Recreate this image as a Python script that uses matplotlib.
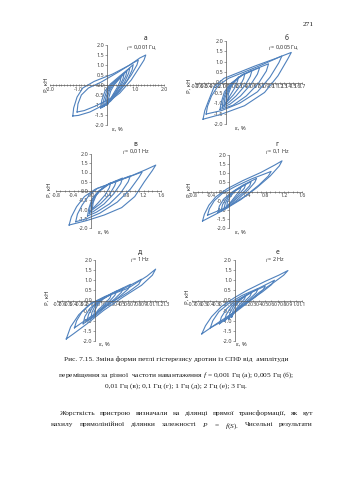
import numpy as np
import matplotlib
matplotlib.use('Agg')
import matplotlib.pyplot as plt
from matplotlib.ticker import MultipleLocator, FormatStrFormatter

plt.rcParams['font.family'] = ['Noto Sans', 'DejaVu Sans']
plt.rcParams['axes.unicode_minus'] = False
plt.rcParams['mathtext.fontset'] = 'custom'
plt.rcParams['mathtext.it'] = 'Liberation Serif:italic'
plt.rcParams['mathtext.rm'] = 'Liberation Serif'

W, H = 339, 480

# hysteresis loops, (strain %, force kN) per loop, outer loop first
loops_a = [
    [(-1.20, -1.55), (-1.17, -1.15), (-1.05, -0.60), (-0.85, -0.15), (-0.45, 0.18), (0.20, 0.55), (0.80, 1.00),
     (1.15, 1.35), (1.36, 1.50), (1.30, 1.25), (1.10, 0.80), (0.85, 0.25), (0.45, -0.40), (-0.05, -0.95),
     (-0.60, -1.35), (-1.00, -1.52), (-1.20, -1.55)],
    [(-1.05, -1.35), (-1.02, -0.95), (-0.90, -0.50), (-0.65, -0.15), (-0.20, 0.15), (0.40, 0.65), (0.85, 1.05),
     (1.10, 1.25), (1.05, 1.00), (0.85, 0.50), (0.55, -0.10), (0.15, -0.65), (-0.40, -1.05), (-0.80, -1.28),
     (-1.05, -1.35)],
    [(-0.22, -1.15), (-0.18, -0.75), (-0.07, -0.30), (0.12, 0.05), (0.45, 0.45), (0.75, 0.80), (0.92, 1.02),
     (0.88, 0.75), (0.72, 0.25), (0.45, -0.30), (0.12, -0.82), (-0.22, -1.15)],
    [(-0.15, -1.10), (-0.11, -0.72), (-0.01, -0.30), (0.16, 0.05), (0.45, 0.40), (0.80, 0.85), (0.76, 0.60),
     (0.62, 0.15), (0.38, -0.35), (0.08, -0.84), (-0.15, -1.10)],
    [(-0.09, -1.05), (-0.05, -0.70), (0.04, -0.30), (0.19, 0.05), (0.45, 0.38), (0.70, 0.70), (0.66, 0.45),
     (0.52, 0.05), (0.30, -0.40), (0.04, -0.84), (-0.09, -1.05)],
    [(-0.03, -1.00), (0.00, -0.68), (0.08, -0.30), (0.22, 0.02), (0.42, 0.30), (0.60, 0.55), (0.56, 0.30),
     (0.44, -0.05), (0.25, -0.45), (0.06, -0.82), (-0.03, -1.00)],
    [(0.03, -0.95), (0.06, -0.65), (0.13, -0.30), (0.25, 0.00), (0.50, 0.42), (0.46, 0.18), (0.36, -0.12),
     (0.20, -0.50), (0.03, -0.95)],
]

loops_b = [
    [(-0.52, -1.77), (-0.48, -1.35), (-0.40, -0.90), (-0.27, -0.20), (-0.05, 0.20), (0.30, 0.50), (0.65, 0.80),
     (1.10, 1.15), (1.46, 1.45), (1.38, 1.13), (1.16, 0.32), (0.86, -0.48), (0.41, -1.12), (-0.11, -1.53),
     (-0.52, -1.77)],
    [(-0.45, -1.52), (-0.42, -1.15), (-0.33, -0.65), (-0.18, -0.15), (0.05, 0.20), (0.40, 0.50), (0.80, 0.85),
     (1.25, 1.28), (1.18, 0.95), (0.98, 0.25), (0.70, -0.45), (0.30, -1.00), (-0.10, -1.35), (-0.45, -1.52)],
    [(-0.14, -1.30), (-0.11, -0.95), (-0.04, -0.45), (0.10, -0.05), (0.35, 0.35), (0.65, 0.65), (0.95, 0.90),
     (0.90, 0.55), (0.72, -0.05), (0.45, -0.65), (0.15, -1.10), (-0.14, -1.30)],
    [(-0.09, -1.20), (-0.07, -0.85), (0.00, -0.40), (0.12, -0.05), (0.35, 0.35), (0.75, 0.72), (0.70, 0.40),
     (0.55, -0.10), (0.32, -0.65), (0.08, -1.05), (-0.09, -1.20)],
    [(-0.05, -1.10), (-0.03, -0.75), (0.04, -0.35), (0.15, 0.00), (0.35, 0.35), (0.58, 0.60), (0.54, 0.30),
     (0.42, -0.15), (0.22, -0.65), (0.05, -0.98), (-0.05, -1.10)],
    [(-0.01, -1.00), (0.01, -0.65), (0.08, -0.25), (0.20, 0.10), (0.42, 0.45), (0.39, 0.18), (0.30, -0.20),
     (0.16, -0.60), (-0.01, -1.00)],
    [(0.03, -0.90), (0.05, -0.55), (0.12, -0.15), (0.28, 0.28), (0.25, 0.05), (0.18, -0.30), (0.08, -0.65),
     (0.03, -0.90)],
]

loops_c = [
    [(-0.50, -1.84), (-0.45, -1.40), (-0.33, -0.85), (-0.15, -0.30), (0.10, 0.10), (0.45, 0.40), (0.90, 0.80),
     (1.25, 1.15), (1.48, 1.40), (1.40, 1.10), (1.22, 0.50), (1.00, -0.30), (0.70, -0.90), (0.30, -1.30),
     (-0.10, -1.60), (-0.50, -1.84)],
    [(-0.35, -1.66), (-0.31, -1.25), (-0.20, -0.75), (-0.05, -0.25), (0.15, 0.15), (0.50, 0.45), (0.85, 0.75),
     (1.17, 1.03), (1.10, 0.75), (0.90, 0.10), (0.60, -0.60), (0.20, -1.20), (-0.10, -1.50), (-0.35, -1.66)],
    [(-0.08, -1.35), (-0.05, -0.95), (0.02, -0.45), (0.15, -0.05), (0.38, 0.35), (0.65, 0.60), (0.90, 0.82),
     (0.85, 0.50), (0.68, -0.10), (0.42, -0.70), (0.12, -1.15), (-0.08, -1.35)],
    [(-0.04, -1.22), (-0.02, -0.85), (0.05, -0.40), (0.18, 0.00), (0.40, 0.38), (0.72, 0.70), (0.68, 0.40),
     (0.52, -0.15), (0.30, -0.70), (0.06, -1.10), (-0.04, -1.22)],
    [(0.00, -1.10), (0.02, -0.75), (0.08, -0.35), (0.20, 0.00), (0.40, 0.35), (0.58, 0.55), (0.54, 0.28),
     (0.42, -0.20), (0.22, -0.68), (0.04, -1.00), (0.00, -1.10)],
    [(0.03, -0.98), (0.05, -0.62), (0.12, -0.22), (0.26, 0.15), (0.45, 0.45), (0.42, 0.18), (0.32, -0.22),
     (0.16, -0.65), (0.03, -0.98)],
]

loops_d = [
    [(-0.59, -1.62), (-0.55, -1.25), (-0.45, -0.75), (-0.30, -0.30), (-0.05, 0.15), (0.30, 0.60), (0.70, 1.05),
     (1.00, 1.45), (1.16, 1.68), (1.10, 1.40), (0.90, 0.85), (0.60, 0.20), (0.25, -0.45), (-0.15, -1.05),
     (-0.59, -1.62)],
    [(-0.48, -1.30), (-0.44, -0.95), (-0.33, -0.50), (-0.15, -0.10), (0.15, 0.30), (0.50, 0.70), (0.92, 1.10),
     (0.86, 0.85), (0.65, 0.35), (0.35, -0.25), (0.00, -0.80), (-0.48, -1.30)],
    [(-0.25, -1.15), (-0.22, -0.80), (-0.12, -0.40), (0.05, -0.05), (0.30, 0.35), (0.60, 0.72), (0.56, 0.50),
     (0.42, 0.10), (0.20, -0.40), (-0.05, -0.90), (-0.25, -1.15)],
    [(-0.18, -1.05), (-0.15, -0.72), (-0.06, -0.35), (0.10, 0.00), (0.30, 0.30), (0.48, 0.55), (0.45, 0.32),
     (0.33, 0.00), (0.15, -0.40), (-0.05, -0.85), (-0.18, -1.05)],
    [(-0.12, -0.95), (-0.09, -0.65), (-0.02, -0.30), (0.12, 0.05), (0.36, 0.40), (0.33, 0.18), (0.23, -0.10),
     (0.08, -0.50), (-0.12, -0.95)],
    [(-0.06, -0.85), (-0.04, -0.55), (0.03, -0.25), (0.14, 0.05), (0.26, 0.25), (0.23, 0.05), (0.15, -0.20),
     (0.04, -0.55), (-0.06, -0.85)],
]

loops_e = [
    [(-0.53, -1.90), (-0.45, -1.30), (-0.30, -0.70), (-0.10, -0.20), (0.20, 0.20), (0.60, 0.60), (0.95, 1.20),
     (1.11, 1.55), (1.05, 1.25), (0.85, 0.75), (0.50, 0.15), (0.15, -0.50), (-0.15, -1.15), (-0.40, -1.65),
     (-0.53, -1.90)],
    [(-0.38, -1.35), (-0.34, -1.00), (-0.24, -0.55), (-0.08, -0.15), (0.18, 0.20), (0.50, 0.55), (0.85, 1.05),
     (0.80, 0.80), (0.60, 0.40), (0.30, -0.10), (0.00, -0.65), (-0.22, -1.05), (-0.38, -1.35)],
    [(-0.22, -1.15), (-0.19, -0.80), (-0.10, -0.40), (0.05, -0.05), (0.30, 0.35), (0.65, 0.80), (0.60, 0.55),
     (0.45, 0.20), (0.20, -0.30), (-0.02, -0.80), (-0.22, -1.15)],
    [(-0.15, -1.00), (-0.12, -0.68), (-0.04, -0.30), (0.10, 0.02), (0.30, 0.32), (0.52, 0.62), (0.48, 0.40),
     (0.36, 0.08), (0.15, -0.35), (-0.02, -0.72), (-0.15, -1.00)],
    [(-0.08, -0.90), (-0.06, -0.60), (0.00, -0.25), (0.12, 0.05), (0.40, 0.48), (0.36, 0.25), (0.26, -0.05),
     (0.10, -0.42), (-0.08, -0.90)],
    [(-0.03, -0.80), (-0.01, -0.50), (0.05, -0.20), (0.15, 0.08), (0.30, 0.32), (0.27, 0.12), (0.18, -0.15),
     (0.06, -0.45), (-0.03, -0.80)],
]

loops_f = [
    [(-0.54, -1.65), (-0.48, -1.25), (-0.38, -0.80), (-0.22, -0.30), (0.00, 0.15), (0.20, 0.50), (0.50, 0.95),
     (0.72, 1.25), (0.87, 1.48), (0.80, 1.25), (0.62, 0.85), (0.40, 0.40), (0.18, -0.15), (-0.05, -0.65),
     (-0.30, -1.15), (-0.54, -1.65)],
    [(-0.40, -1.35), (-0.36, -1.00), (-0.26, -0.55), (-0.10, -0.15), (0.12, 0.25), (0.40, 0.62), (0.65, 1.00),
     (0.60, 0.78), (0.45, 0.42), (0.22, -0.05), (-0.02, -0.60), (-0.22, -1.05), (-0.40, -1.35)],
    [(-0.25, -1.15), (-0.22, -0.82), (-0.13, -0.40), (0.00, -0.05), (0.20, 0.30), (0.50, 0.72), (0.46, 0.50),
     (0.34, 0.18), (0.15, -0.25), (-0.05, -0.72), (-0.25, -1.15)],
    [(-0.17, -1.02), (-0.14, -0.70), (-0.06, -0.32), (0.06, 0.02), (0.20, 0.28), (0.38, 0.58), (0.35, 0.38),
     (0.25, 0.10), (0.10, -0.28), (-0.05, -0.68), (-0.17, -1.02)],
    [(-0.10, -0.92), (-0.08, -0.62), (-0.02, -0.28), (0.08, 0.02), (0.28, 0.42), (0.25, 0.22), (0.17, -0.02),
     (0.05, -0.38), (-0.10, -0.92)],
    [(-0.05, -0.82), (-0.03, -0.52), (0.02, -0.22), (0.10, 0.05), (0.18, 0.25), (0.16, 0.08), (0.10, -0.12),
     (0.02, -0.42), (-0.05, -0.82)],
]

panel_letters = ['а', 'б', 'в', 'г', 'д', 'е']
freq_labels = ['$f$ = 0,001 Гц', '$f$ = 0,005 Гц', '$f$ = 0,01 Hz', '$f$ = 0,1 Hz', '$f$ = 1 Hz', '$f$ = 2 Hz']
x_limits = [(-2.0, 2.0), (-0.7, 1.7), (-0.8, 1.6), (-0.8, 1.6), (-0.7, 1.3), (-0.7, 1.1)]
x_steps = [1.0, 0.1, 0.4, 0.4, 0.1, 0.1]
y_ticks = [-2.0, -1.5, -1.0, -0.5, 0.0, 0.5, 1.0, 1.5, 2.0]
all_loops = [loops_a, loops_b, loops_c, loops_d, loops_e, loops_f]

# pixel layout of each small chart: plot box, letter, frequency note, axis titles
boxes = [(50, 164, 45, 125), (195, 302, 41, 124), (56, 161, 154, 228),
         (193, 302, 155, 228), (57, 166, 260, 341), (192, 302, 260, 341)]
letter_pos = [(146, 38), (287, 38), (135, 145), (277, 145), (140, 252), (278, 252)]
freq_pos = [(141, 47), (283, 47), (136, 152), (277, 152), (140, 259), (275, 259)]
ylab_pos = [(46, 85), (189, 86), (49, 190), (189, 190), (47, 298), (187, 297)]
xlab_pos = [(117, 129), (240, 128), (103, 232), (240, 232), (104, 344), (241, 344)]

LOOP_COLOR = '#4F81BD'
AX_COLOR = '#595959'

fig = plt.figure(figsize=(W / 100, H / 100), dpi=100)
fig.patch.set_facecolor('white')


def ftext(x, y, s, **kw):
    return fig.text(x / W, 1 - y / H, s, **kw)


for i in range(6):
    x0, x1, y0, y1 = boxes[i]
    ax = fig.add_axes([x0 / W, 1 - y1 / H, (x1 - x0) / W, (y1 - y0) / H])
    ax.patch.set_alpha(0)
    for loop in all_loops[i]:
        xs = [p[0] for p in loop]
        ys = [p[1] for p in loop]
        ax.plot(xs, ys, color=LOOP_COLOR, lw=0.8, solid_joinstyle='round')
    ax.set_xlim(*x_limits[i])
    ax.set_ylim(-2.0, 2.0)
    for side in ['top', 'right']:
        ax.spines[side].set_visible(False)
    ax.spines['left'].set_position(('data', 0))
    ax.spines['bottom'].set_position(('data', 0))
    for side in ['left', 'bottom']:
        ax.spines[side].set_color(AX_COLOR)
        ax.spines[side].set_linewidth(0.5)
    lo, hi = x_limits[i]
    n = int(round((hi - lo) / x_steps[i]))
    ax.set_xticks([lo + k * x_steps[i] for k in range(n + 1)])
    ax.xaxis.set_major_formatter(FormatStrFormatter('%.1f'))
    ax.set_yticks(y_ticks)
    ax.yaxis.set_major_formatter(FormatStrFormatter('%.1f'))
    if x_steps[i] > 0.1:
        ax.xaxis.set_minor_locator(MultipleLocator(0.1))
    ax.tick_params(axis='x', which='both', direction='inout', length=1.6, width=0.4,
                   colors=AX_COLOR, labelsize=3.7, pad=0.6, labelcolor='#404040')
    ax.tick_params(axis='y', which='major', direction='out', length=1.3, width=0.4,
                   colors=AX_COLOR, labelsize=3.9, pad=0.8, labelcolor='#404040')

    lx, ly = letter_pos[i]
    ftext(lx, ly, panel_letters[i], fontsize=4.8, fontweight='bold', color='#222222',
          ha='center', va='center')
    fx, fy = freq_pos[i]
    ftext(fx, fy, freq_labels[i], fontsize=3.9, color='#333333', ha='center', va='center')
    px, py = ylab_pos[i]
    ftext(px, py, 'P, кН', fontsize=4.3, color='#333333', rotation=90, ha='center', va='center')
    ex, ey = xlab_pos[i]
    ftext(ex, ey, 'ε, %', fontsize=4.3, color='#333333', ha='center', va='center')

# page text
serif = ['Liberation Serif', 'DejaVu Serif']
TXT = '#1a1a1a'
FS = 5.3

ftext(308, 24, '271', fontsize=FS, family=serif, color=TXT, ha='center', va='center_baseline')

caption = [
    'Рис. 7.15. Зміна форми петлі гістерезису дротин із СПФ від  амплітуди',
    'переміщення за різної  частоти навантаження $f$ = 0,001 Гц (а); 0,005 Гц (б);',
    '0,01 Гц (в); 0,1 Гц (г); 1 Гц (д); 2 Гц (е); 3 Гц.',
]
caption_y = [359, 373, 385]
for s, y in zip(caption, caption_y):
    ftext(176, y, s, fontsize=FS, family=serif, color=TXT, ha='center', va='center_baseline')

para = [
    (60, 413, ['Жорсткість', 'пристрою', 'визначали', 'на', 'ділянці', 'прямої',
               'трансформації,', 'як', 'кут']),
    (51, 424, ['нахилу', 'прямолінійної', 'ділянки', 'залежності', '$P$', '=',
               '$f(S)$.', 'Чисельні', 'результати']),
]
right_edge = 313
renderer = fig.canvas.get_renderer()
for x_start, y, words in para:
    items = [ftext(0, y, w, fontsize=FS, family=serif, color=TXT, ha='left',
                   va='center_baseline') for w in words]
    widths = [t.get_window_extent(renderer).width for t in items]
    gap = (right_edge - x_start - sum(widths)) / (len(words) - 1)
    x = x_start
    for t, w in zip(items, widths):
        t.set_x(x / W)
        x += w + gap

fig.savefig('out.png', dpi=100, facecolor='white')
